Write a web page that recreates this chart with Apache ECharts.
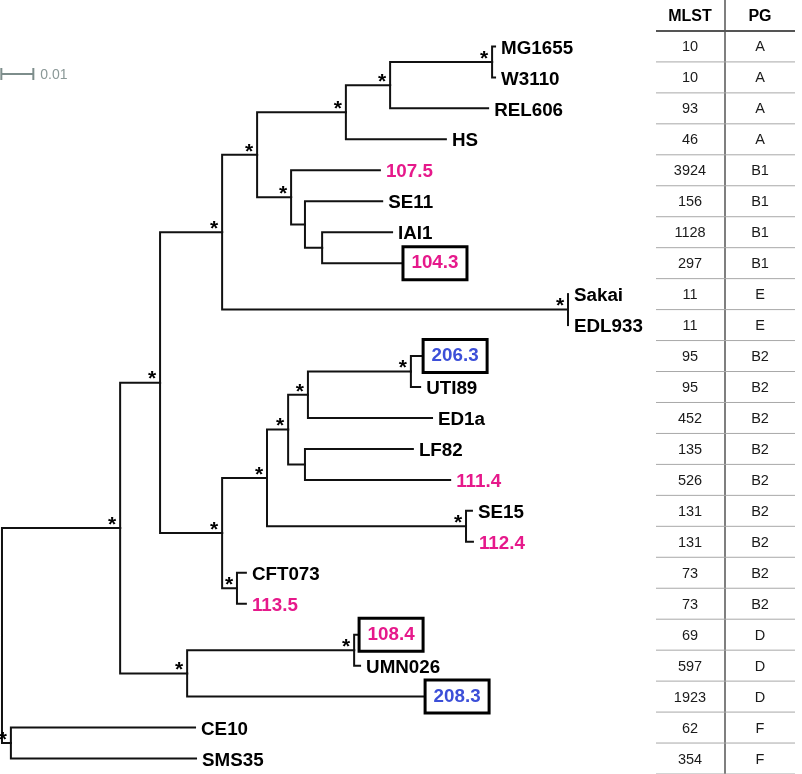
<!DOCTYPE html>
<html>
<head>
<meta charset="utf-8">
<script src="https://cdn.jsdelivr.net/npm/echarts@6/dist/echarts.min.js"></script>
<style>
html,body{margin:0;padding:0;background:#fff;}
#chart{width:802px;height:774px;}
</style>
</head>
<body>
<div id="chart"></div>
<script>
// ---------------- DATA ----------------
// Leaves, top to bottom
const leafLabels = ['MG1655','W3110','REL606','HS','107.5','SE11','IAI1','104.3','Sakai','EDL933','206.3','UTI89','ED1a','LF82','111.4','SE15','112.4','CFT073','113.5','108.4','UMN026','208.3','CE10','SMS35'];
const leafStyle  = ['ref','ref','ref','ref','pink','ref','ref','pinkBox','ref','ref','blueBox','ref','ref','ref','pink','ref','pink','ref','pink','pinkBox','ref','blueBox','ref','ref'];
const leafParent = ['K12','K12','A2','A','B1','B1b','B1c','B1c','E','E','UTI','UTI','B2c','LF','LF','SE15','SE15','CFT','CFT','UMN','UMN','D','F','F'];
// distance from root (substitutions per site)
const leafDepth  = [0.1494,0.1494,0.1473,0.1345,0.1145,0.1152,0.1182,0.1215,0.1715,0.1715,0.1276,0.1267,0.1303,0.1245,0.1358,0.1424,0.1427,0.0739,0.0739,0.1082,0.1085,0.1282,0.0585,0.0588];

// Internal nodes
const nodeNames   = ['root','F','main','up','AB1E','E','AB1','A','A2','K12','B1','B1b','B1c','B2','B2a','B2b','B2c','UTI','LF','SE15','CFT','D','UMN'];
const nodeParent  = [null,'root','root','main','up','AB1E','AB1E','AB1','A','A2','AB1','B1','B1b','up','B2','B2a','B2b','B2c','B2b','B2a','B2','main','D'];
const nodeDepth   = [0,0.0027,0.0358,0.0479,0.0667,0.1715,0.0773,0.1042,0.1176,0.1485,0.0876,0.0918,0.0970,0.0667,0.0803,0.0867,0.0927,0.1239,0.0918,0.1406,0.0712,0.0561,0.1067];
const nodeSupport = [false,true,true,true,true,true,true,true,true,true,true,false,false,true,true,true,true,true,false,true,true,true,true];

// Table
const tableHeader = ['MLST','PG'];
const mlst = ['10','10','93','46','3924','156','1128','297','11','11','95','95','452','135','526','131','131','73','73','69','597','1923','62','354'];
const pg   = ['A','A','A','A','B1','B1','B1','B1','E','E','B2','B2','B2','B2','B2','B2','B2','B2','B2','D','D','D','F','F'];

// Scale bar
const scaleBarLength = 0.01;
const scaleBarLabel = '0.01';

// ---------------- BUILD ----------------
const PINK = '#e6198b', BLUE = '#3c4fd8', INK = '#000';
const FONT = '"Liberation Sans", Arial, Helvetica, sans-serif';

const nodes = {};
nodeNames.forEach((n,i)=>{ nodes[n] = {name:n, parent:nodeParent[i], depth:nodeDepth[i], support:nodeSupport[i], children:[]}; });
leafLabels.forEach((n,i)=>{ nodes['leaf:'+n] = {name:n, parent:leafParent[i], depth:leafDepth[i], y:i, leaf:true, children:[]}; });
Object.values(nodes).forEach(n=>{ if(n.parent) nodes[n.parent].children.push(n); });
function yOf(n){ if(n.y!==undefined) return n.y; const ys=n.children.map(yOf); n.y=(Math.min(...ys)+Math.max(...ys))/2; return n.y; }
yOf(nodes.root);

const edges = [];
Object.values(nodes).forEach(n=>{
  if(!n.parent) return;
  const p = nodes[n.parent];
  edges.push({coords:[[p.depth,p.y],[p.depth,n.y],[n.depth,n.y]]});
});

const supportPts = Object.values(nodes).filter(n=>!n.leaf && n.support).map(n=>[n.depth,n.y]);

const leafData = leafLabels.map((name,i)=>{
  const st = leafStyle[i];
  const boxed = st.indexOf('Box')>=0;
  const color = st.indexOf('pink')===0 ? PINK : (st.indexOf('blue')===0 ? BLUE : INK);
  const label = {color:color, formatter:name};
  if(boxed){
    Object.assign(label,{borderColor:'#000', borderWidth:3, padding:[6,7,5,7], distance:1.5, offset:[0,0], backgroundColor:'#fff'});
  }
  return {value:[leafDepth[i], i], label:label};
});

const tableData = [];
tableHeader.forEach((h,c)=>tableData.push({value:[c,-1], name:h, label:{fontWeight:'bold', fontSize:16, color:'#000'}}));
leafLabels.forEach((_,i)=>{
  tableData.push({value:[0,i], name:mlst[i]});
  tableData.push({value:[1,i], name:pg[i]});
});
const rowLines = [-1].concat(leafLabels.map((_,i)=>i)).map(r=>[0,r]);

const Y_MIN = -1.5, Y_MAX = 23.5;
const SCALE_X0 = -0.0005, SCALE_ROW = 0.89;
const OPAQUE = {opacity:1};

const chart = echarts.init(document.getElementById('chart'), null, {renderer:'canvas'});
chart.setOption({
  animation:false,
  backgroundColor:'#fff',
  textStyle:{fontFamily:FONT},
  grid:[
    {left:0, right:0, top:0, bottom:0},
    {left:655, width:140, top:0, bottom:0}
  ],
  xAxis:[
    {type:'value', gridIndex:0, min:-0.0006, max:0.2424, show:false},
    {type:'category', gridIndex:1, data:tableHeader, axisLine:{show:false}, axisTick:{show:false}, axisLabel:{show:false},
     splitLine:{show:true, lineStyle:{color:['rgba(0,0,0,0)','#555','rgba(0,0,0,0)'], width:1.5}}}
  ],
  yAxis:[
    {type:'value', gridIndex:0, min:Y_MIN, max:Y_MAX, inverse:true, show:false},
    {type:'value', gridIndex:1, min:Y_MIN, max:Y_MAX, inverse:true, show:false}
  ],
  series:[
    {
      type:'lines', coordinateSystem:'cartesian2d', xAxisIndex:0, yAxisIndex:0,
      polyline:true, silent:true,
      lineStyle:{color:'#111', width:2, opacity:1, join:'miter', cap:'square'},
      data:edges
    },
    {
      type:'scatter', xAxisIndex:0, yAxisIndex:0, symbolSize:0, silent:true, itemStyle:OPAQUE,
      label:{show:true, position:'inside', formatter:'*', color:INK, fontWeight:'bold', fontSize:21, offset:[-8,-3], fontFamily:FONT},
      data:supportPts
    },
    {
      type:'scatter', xAxisIndex:0, yAxisIndex:0, symbolSize:0, silent:true, itemStyle:OPAQUE,
      label:{show:true, position:'right', distance:6, offset:[0,2], fontWeight:'bold', fontSize:18.8, fontFamily:FONT},
      data:leafData
    },
    {
      type:'custom', xAxisIndex:0, yAxisIndex:0, silent:true,
      data:[[SCALE_X0, SCALE_ROW, scaleBarLength]],
      renderItem:function(params, api){
        const a = api.coord([api.value(0), api.value(1)]);
        const b = api.coord([api.value(0)+api.value(2), api.value(1)]);
        const st = {stroke:'#7d8d8b', lineWidth:2};
        return {type:'group', children:[
          {type:'line', shape:{x1:a[0]+1,y1:a[1],x2:b[0],y2:b[1]}, style:st},
          {type:'line', shape:{x1:a[0]+1,y1:a[1]-6,x2:a[0]+1,y2:a[1]+6}, style:st},
          {type:'line', shape:{x1:b[0],y1:b[1]-6,x2:b[0],y2:b[1]+6}, style:st},
          {type:'text', x:b[0]+7, y:b[1]+1, style:{text:scaleBarLabel, fill:'#8a9897', font:'14px '+FONT, textVerticalAlign:'middle'}}
        ]};
      }
    },
    {
      type:'custom', xAxisIndex:1, yAxisIndex:1, silent:true,
      data:rowLines,
      renderItem:function(params, api){
        const r = api.value(1);
        const y = api.coord([0, r+0.5])[1];
        const cs = params.coordSys;
        const hdr = r < 0;
        return {type:'line', shape:{x1:cs.x+1, y1:y, x2:cs.x+cs.width, y2:y},
                style:{stroke: hdr ? '#555' : '#a8a8a8', lineWidth: hdr ? 2 : 1}};
      }
    },
    {
      type:'scatter', xAxisIndex:1, yAxisIndex:1, symbolSize:0, silent:true, itemStyle:OPAQUE,
      label:{show:true, position:'inside', formatter:'{b}', color:'#1a1a1a', fontSize:14.5, offset:[0,1], fontFamily:FONT},
      data:tableData
    }
  ]
});
</script>
</body>
</html>
